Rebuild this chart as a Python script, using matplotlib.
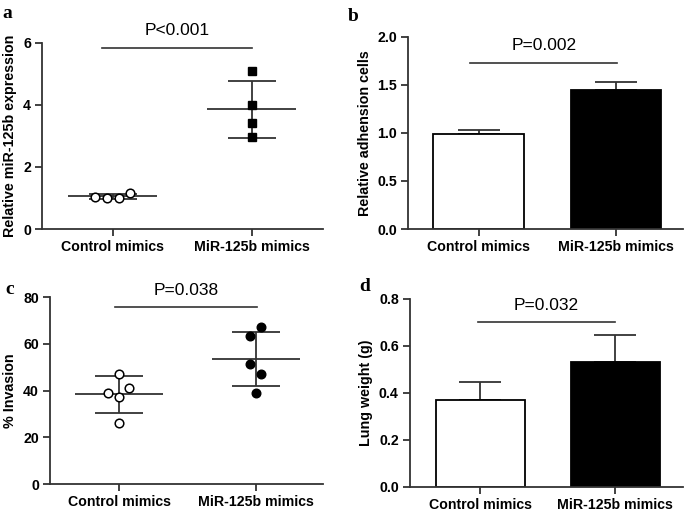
import numpy as np
import matplotlib
matplotlib.use("Agg")
import matplotlib.pyplot as plt

plt.rcParams['font.family'] = ['Liberation Sans', 'DejaVu Sans']

groups = ['Control mimics', 'MiR-125b mimics']

# panel a: relative miR-125b expression (dot plot)
a_ctrl = [1.04, 1.00, 1.00, 1.16]
a_ctrl_dx = [-0.13, -0.045, 0.045, 0.12]
a_mir = [5.11, 4.00, 3.41, 2.96]
a_mir_dx = [0, 0, 0, 0]
a_mean = [1.05, 3.86]
a_sd = [0.08, 0.93]

# panel b: relative adhesion cells (bars)
b_mean = [0.99, 1.45]
b_err = [0.04, 0.08]

# panel c: % invasion (dot plot)
c_ctrl = [47.1, 39.1, 40.9, 37.1, 26.2]
c_ctrl_dx = [0, -0.08, 0.075, 0, 0]
c_mir = [67.3, 63.3, 51.2, 47.1, 39.1]
c_mir_dx = [0.04, -0.045, -0.045, 0.04, 0]
c_mean = [38.3, 53.5]
c_sd = [7.8, 11.6]

# panel d: lung weight (bars)
d_mean = [0.372, 0.530]
d_err = [0.076, 0.115]

p_texts = ['P<0.001', 'P=0.002', 'P=0.038', 'P=0.032']
bracket_y = [5.84, 1.73, 75.6, 0.70]

LC = '#333333'

fig = plt.figure(figsize=(6.85, 5.13), dpi=100)
ax_a = fig.add_axes([0.0613, 0.5536, 0.410, 0.3626])
ax_b = fig.add_axes([0.5956, 0.5536, 0.4015, 0.3743])
ax_c = fig.add_axes([0.0730, 0.0565, 0.3985, 0.3645])
ax_d = fig.add_axes([0.5985, 0.0507, 0.3985, 0.3665])


def style(ax, ylim, yticks, fmt, ylabel, xlim):
    ax.set_xlim(*xlim)
    ax.set_ylim(*ylim)
    ax.set_yticks(yticks)
    ax.set_yticklabels([fmt.format(v) for v in yticks], fontweight='bold', fontsize=10.2)
    ax.set_xticks([0, 1])
    ax.set_xticklabels(groups, fontweight='bold', fontsize=10.2)
    ax.set_ylabel(ylabel, fontweight='bold', fontsize=10.3, labelpad=4)
    for s in ['top', 'right']:
        ax.spines[s].set_visible(False)
    for s in ['left', 'bottom']:
        ax.spines[s].set_color(LC)
        ax.spines[s].set_linewidth(1.3)
    ax.tick_params(axis='both', length=5, width=1.3, color=LC, pad=3)


def dotplot(ax, ctrl, ctrl_dx, mir, mir_dx, mean, sd, mir_marker):
    ax.plot(np.array(ctrl_dx), ctrl, 'o', mfc='white', mec='black', ms=6.2, mew=1.1, zorder=3)
    ax.plot(1 + np.array(mir_dx), mir, mir_marker, mfc='black', mec='black', ms=6.2, zorder=3)
    for i in range(2):
        ax.hlines(mean[i], i - 0.32, i + 0.32, color=LC, lw=1.3, zorder=2)
        ax.errorbar(i, mean[i], yerr=sd[i], fmt='none', ecolor=LC, elinewidth=1.3,
                    capsize=17, capthick=1.3, zorder=2)


def barplot(ax, mean, err):
    ax.bar([0, 1], mean, width=0.66, color=['white', 'black'], edgecolor='black',
           linewidth=1.3, zorder=2)
    ax.errorbar([0, 1], mean, yerr=[[0, 0], err], fmt='none', ecolor=LC, elinewidth=1.3,
                capsize=15, capthick=1.3, zorder=1)


dotplot(ax_a, a_ctrl, a_ctrl_dx, a_mir, a_mir_dx, a_mean, a_sd, 's')
style(ax_a, (0, 6), [0, 2, 4, 6], '{:g}', 'Relative miR-125b expression', (-0.51, 1.51))

barplot(ax_b, b_mean, b_err)
style(ax_b, (0, 2), [0, 0.5, 1.0, 1.5, 2.0], '{:.1f}', 'Relative adhension cells', (-0.515, 1.49))

dotplot(ax_c, c_ctrl, c_ctrl_dx, c_mir, c_mir_dx, c_mean, c_sd, 'o')
style(ax_c, (0, 80), [0, 20, 40, 60, 80], '{:g}', '% Invasion', (-0.504, 1.49))

barplot(ax_d, d_mean, d_err)
style(ax_d, (0, 0.8), [0, 0.2, 0.4, 0.6, 0.8], '{:.1f}', 'Lung weight (g)', (-0.52, 1.5))

# significance brackets
brackets = [(ax_a, -0.08, 1.0), (ax_b, -0.06, 1.01), (ax_c, -0.03, 1.01), (ax_d, -0.02, 1.0)]
for (ax, x0, x1), p, by in zip(brackets, p_texts, bracket_y):
    ax.plot([x0, x1], [by, by], color=LC, lw=1.2, clip_on=False)
    ax.annotate(p, xy=((x0 + x1) / 2, by), xytext=(0, 7), textcoords='offset points',
                ha='center', va='bottom', fontsize=12.5, annotation_clip=False)

# panel letters
for lab, x, y in [('a', 0.004, 0.973), ('b', 0.508, 0.968), ('c', 0.008, 0.436), ('d', 0.524, 0.442)]:
    fig.text(x, y, lab, fontsize=14, fontweight='bold', family=['Liberation Serif', 'DejaVu Serif'],
             ha='left', va='center')

fig.savefig('out.png', dpi=100)
